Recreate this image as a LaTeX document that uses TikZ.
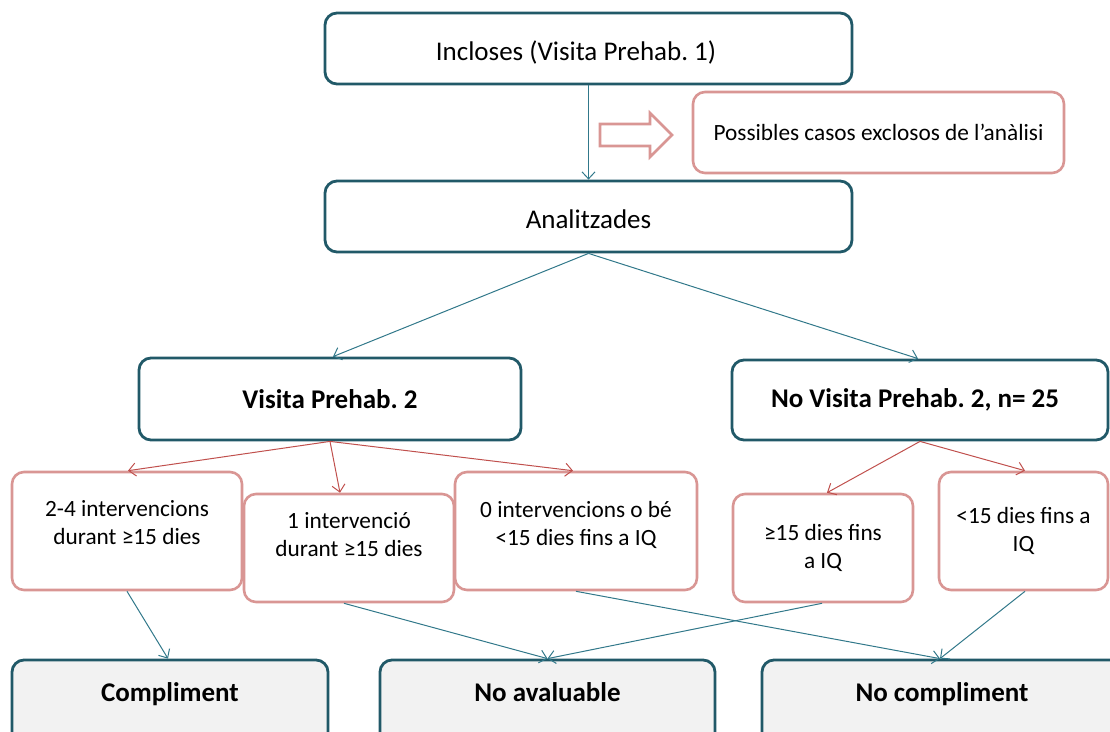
\documentclass[tikz,border=0pt]{standalone}
\usepackage{fontspec}
\setmainfont{Carlito}
\frenchspacing
\usetikzlibrary{arrows.meta}
\definecolor{boxteal}{HTML}{215968}
\definecolor{lineteal}{HTML}{31788A}
\definecolor{boxpink}{HTML}{D99694}
\definecolor{linered}{HTML}{C0504D}
\definecolor{boxgray}{HTML}{F2F2F2}
% an empty closing line that lifts a multi-line label inside its box
\newcommand{\liftlines}[1]{\\[#1]\mbox{}}
\begin{document}
\begin{tikzpicture}[x=1pt,y=-1pt,
  tealbox/.style={draw=boxteal, line width=2.8pt, rounded corners=12pt, fill=white,
    inner sep=0pt, align=center, font=\fontsize{27}{32}\selectfont},
  lowtext/.style={text height=24pt, text depth=0pt},
  boldteal/.style={tealbox, font=\bfseries\fontsize{27}{32}\selectfont},
  pinkbox/.style={draw=boxpink, line width=2.6pt, rounded corners=12pt, fill=white,
    inner sep=0pt, align=center, font=\fontsize{23.3}{28}\selectfont},
  endbox/.style={boldteal, fill=boxgray, minimum height=100pt, text height=18pt, text depth=36pt},
  flowteal/.style={draw=lineteal, line width=1pt, -{Straight Barb[length=7pt,width=13pt]}},
  flowred/.style={draw=linered, line width=1pt, -{Straight Barb[length=7pt,width=13pt]}},
  hollowarrow/.style={draw=boxpink, line width=2.6pt, fill=white, line join=miter}
]
\useasboundingbox (0,0) rectangle (1110,731);
\clip (0,0) rectangle (1110,731);

% top chain
\node[tealbox, lowtext, minimum width=527pt, minimum height=71pt] (inc) at (588.5,48.5) {Incloses (Visita Prehab. 1)\hspace{25pt}};
\node[tealbox, lowtext, minimum width=527pt, minimum height=71pt] (ana) at (588.5,216.5) {Analitzades};
\node[pinkbox, minimum width=371pt, minimum height=81pt] (exc) at (878.5,132.5) {Possibles casos exclosos de l’anàlisi};

% hollow block arrow pointing at the exclusion box
\draw[hollowarrow] (600,124) -- (650,124) -- (650,113) -- (672,135) -- (650,157) -- (650,146) -- (600,146) -- cycle;

% second level
\node[boldteal, minimum width=382pt, minimum height=82pt] (v2) at (330,399) {Visita Prehab. 2};
\node[boldteal, minimum width=376pt, minimum height=80pt] (nv2) at (920,400) {No Visita Prehab. 2, n= 25\hspace{10pt}};

% third level
\node[pinkbox, minimum width=230pt, minimum height=118pt] (b1) at (127,531) {2-4 intervencions\\durant ≥15 dies\liftlines{-11pt}};
\node[pinkbox, minimum width=210pt, minimum height=108pt] (b2) at (349,548) {1 intervenció\\durant ≥15 dies\liftlines{-1pt}};
\node[pinkbox, minimum width=242pt, minimum height=118pt] (b3) at (576,531) {0 intervencions o bé\\<15 dies fins a IQ\liftlines{-13pt}};
\node[pinkbox, minimum width=180pt, minimum height=108pt] (b4) at (823,548) {≥15 dies fins\\a IQ};
\node[pinkbox, minimum width=169pt, minimum height=118pt] (b5) at (1023.5,531) {<15 dies fins a\\IQ};

% outcomes: boxes run past the lower edge of the frame
\node[endbox, minimum width=316pt] (c1) at (170,710) {Compliment};
\node[endbox, minimum width=335pt] (c2) at (547.5,710) {No avaluable};
\node[endbox, minimum width=360pt] (c3) at (942,710) {No compliment};

% connectors
\draw[flowteal] (inc.south) -- (ana.north);
\draw[flowteal] (ana.south) -- ([xshift=3pt]v2.north);
\draw[flowteal] (ana.south) -- ([xshift=-2pt]nv2.north);

\draw[flowred] (v2.south) -- ([xshift=1pt]b1.north);
\draw[flowred] (v2.south) -- ([xshift=-9pt]b2.north);
\draw[flowred] (v2.south) -- ([xshift=-3pt]b3.north);
\draw[flowred] (nv2.south) -- ([xshift=4pt]b4.north);
\draw[flowred] (nv2.south) -- ([xshift=1.5pt]b5.north);

\draw[flowteal] (b1.south) -- ([xshift=-2pt]c1.north);
\draw[flowteal] ([xshift=-5pt]b2.south) -- (c2.north);
\draw[flowteal] (b3.south) -- ([xshift=-2pt]c3.north);
\draw[flowteal] ([xshift=-1pt]b4.south) -- (c2.north);
\draw[flowteal] ([xshift=1.5pt]b5.south) -- ([xshift=-2pt]c3.north);
\end{tikzpicture}
\end{document}
